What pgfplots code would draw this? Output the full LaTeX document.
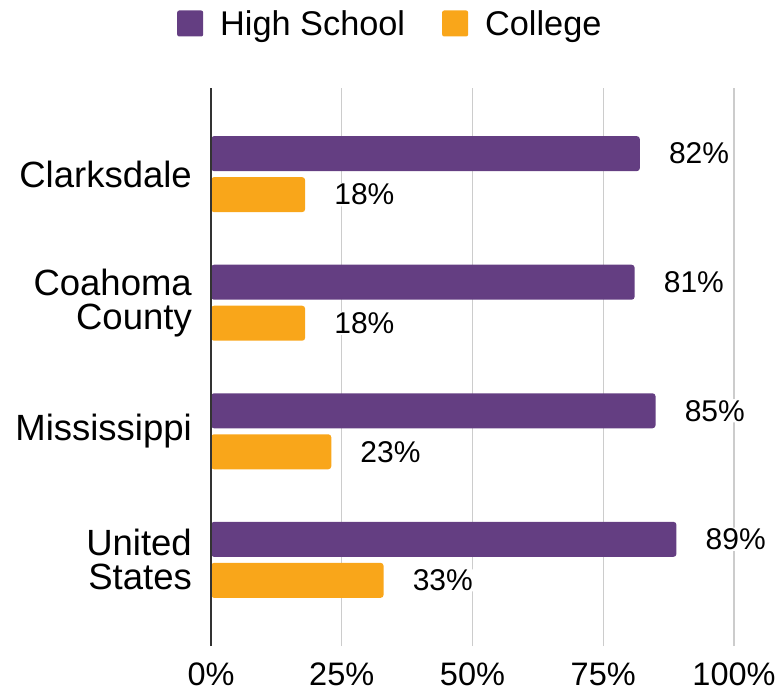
\documentclass[border=0pt]{standalone}
\usepackage{fontspec}
\setmainfont{Liberation Sans}
\usepackage{pgfplots}
\pgfplotsset{compat=1.18}
\definecolor{hs}{RGB}{100,62,130}
\definecolor{col}{RGB}{249,166,26}
\definecolor{gridc}{RGB}{204,204,204}
\definecolor{axisc}{RGB}{51,51,51}
\begin{document}
\begin{tikzpicture}
\begin{axis}[
  at={(0pt,0pt)}, anchor=south west,
  scale only axis, width=523pt, height=558pt,
  xbar, bar width=35pt,
  xmin=0, xmax=100, ymin=-0.67, ymax=3.67,
  xtick={0,25,50,75,100},
  xticklabels={0\%,25\%,50\%,75\%,100\%},
  ytick={0,1,2,3},
  yticklabels={{United\\States}, {Mississippi}, {Coahoma\\County}, {Clarksdale}},
  major tick length=0pt,
  xmajorgrids, grid style={gridc, line width=1.5pt},
  axis line style={draw=none},
  xticklabel style={font=\fontsize{32.5}{38}\selectfont, inner sep=0pt, anchor=north, yshift=-17pt},
  yticklabel style={font=\fontsize{36.5}{34}\selectfont, align=right, inner sep=0pt, anchor=east, xshift=-19pt},
  clip=false,
  legend columns=2,
  legend style={draw=none, fill=none, at={(-0.065,1.1156)}, anchor=west, inner sep=0pt,
    font=\fontsize{34.3}{38}\selectfont, nodes={inner sep=0pt},
    /tikz/every odd column/.append style={column sep=17pt},
    /tikz/every even column/.append style={column sep=37pt}},
  legend cell align=left,
  legend image code/.code={\fill[#1, draw=none, rounded corners=2pt] (0pt,-13pt) rectangle (26pt,13pt);},
  nodes near coords={\pgfmathprintnumber[assume math mode=true]{\pgfplotspointmeta}\%},
  every node near coord/.append style={font=\fontsize{30}{36}\selectfont, anchor=west, xshift=28pt, fill=white, inner sep=1pt, text=black},
]
\addplot[fill=hs, draw=none, rounded corners=3pt, bar shift=20.5pt] coordinates {(89,0) (85,1) (81,2) (82,3)};
\addplot[fill=col, draw=none, rounded corners=3pt, bar shift=-20.5pt] coordinates {(33,0) (23,1) (18,2) (18,3)};
\legend{High School, College}
\draw[axisc, line width=2pt] (axis cs:0,-0.67) -- (axis cs:0,3.67);
\end{axis}
\pgfresetboundingbox
\path (-211pt,-51pt) rectangle (570pt,646pt);
\end{tikzpicture}
\end{document}
